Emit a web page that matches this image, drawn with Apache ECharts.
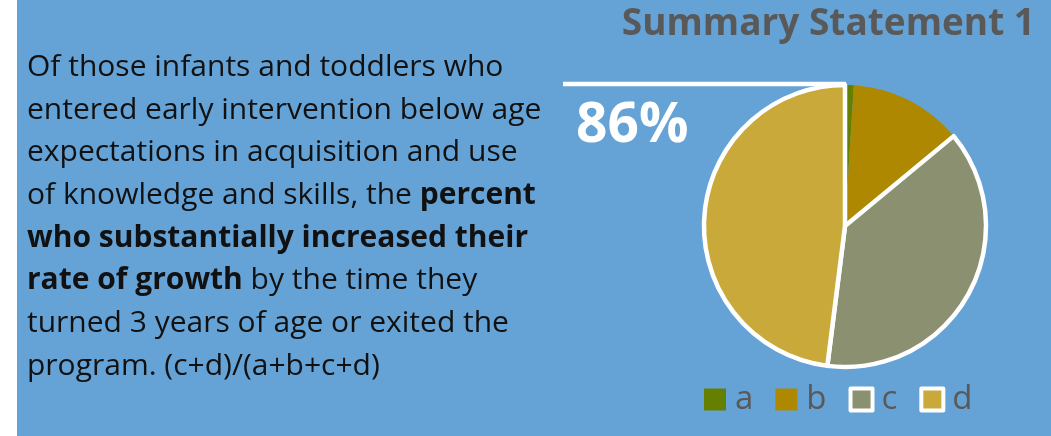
<!DOCTYPE html>
<html><head><meta charset="utf-8">
<script src="https://cdn.jsdelivr.net/npm/echarts@6/dist/echarts.min.js"></script>
<style>html,body{margin:0;padding:0;background:#fff;}#c{width:1051px;height:436px;}</style>
</head><body><div id="c"></div>
<script>
const categories = ['a', 'b', 'c', 'd'];
const values = [1, 13, 38, 48];
const colors = ['#658000', '#ad8800', '#8a9070', '#c8a93a'];
const bordered = [false, false, true, true];
const headline = '86%';
const titleText = 'Summary Statement 1';
const paragraphLines = [
  'Of those infants and toddlers who',
  'entered early intervention below age',
  'expectations in acquisition and use',
  'of knowledge and skills, the {b|percent}',
  '{b|who substantially increased their}',
  '{b|rate of growth} by the time they',
  'turned 3 years of age or exited the',
  'program. (c+d)/(a+b+c+d)'
];

const FONT = '"Open Sans", "Noto Sans", sans-serif';
const cx = 845, cy = 226, R = 141;
const chart = echarts.init(document.getElementById('c'), null, {renderer: 'canvas'});
chart.setOption({
  backgroundColor: '#65a3d7',
  animation: false,
  title: {
    text: titleText, right: 16, top: 0, padding: [6, 0, 0, 0],
    textStyle: {fontFamily: FONT, fontSize: 37, fontWeight: 'bold', color: '#595959'}
  },
  legend: {
    data: categories.map((n, i) => bordered[i]
      ? {name: n, itemStyle: {borderColor: '#fff', borderWidth: 4}}
      : {name: n}),
    left: 704, top: 383, icon: 'rect', padding: 0,
    itemWidth: 22, itemHeight: 22, itemGap: 22,
    textStyle: {fontFamily: FONT, fontSize: 33, color: '#595959', padding: [0, 0, 0, 4]}
  },
  graphic: [
    {type: 'rect', shape: {x: 0, y: 0, width: 17, height: 436}, style: {fill: '#fff'}, silent: true},
    {type: 'text', left: 27, top: 46, style: {
      text: paragraphLines.join('\n'), fontFamily: FONT, fontSize: 30, lineHeight: 42.7, fill: '#111',
      rich: {b: {fontFamily: FONT, fontSize: 30, fontWeight: 'bold', lineHeight: 42.7, fill: '#111'}}
    }},
    {type: 'polyline', z: 10, shape: {points: [[563, cy - R - 1], [cx + 1, cy - R - 1]]},
      style: {stroke: '#fff', lineWidth: 4.5, fill: null}},
    {type: 'text', left: 576, top: 99, z: 10, style: {
      text: headline, fontFamily: FONT, fontSize: 55, fontWeight: 'bold', fill: '#fff'}}
  ],
  series: [{
    type: 'pie', center: [cx, cy], radius: R, startAngle: 90, clockwise: true,
    label: {show: false}, labelLine: {show: false}, emphasis: {disabled: true},
    data: categories.map((n, i) => ({
      name: n, value: values[i],
      itemStyle: {color: colors[i], borderColor: bordered[i] ? '#fff' : colors[i], borderWidth: bordered[i] ? 4.5 : 0}
    }))
  }]
});
</script></body></html>
